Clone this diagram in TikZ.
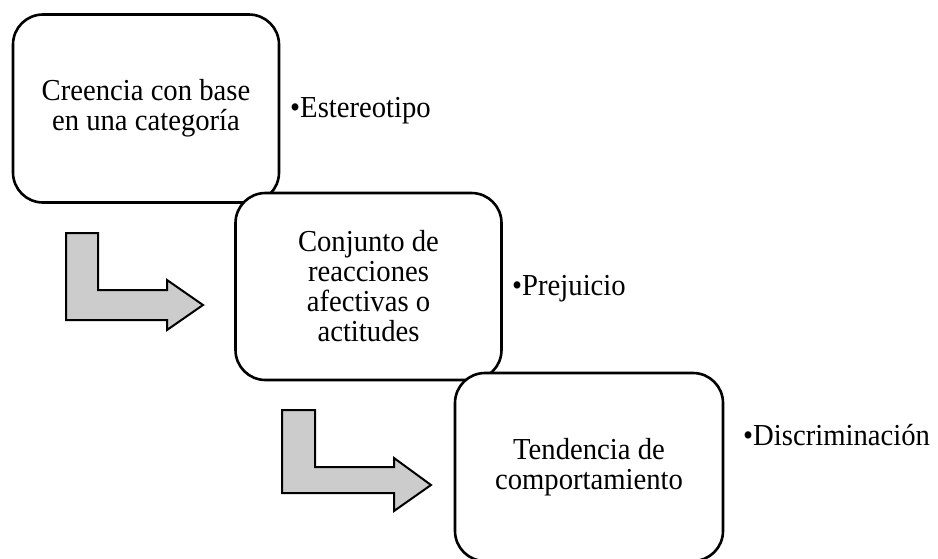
\documentclass[tikz,border=0pt]{standalone}
\usepackage{fontspec}
\setmainfont[FakeStretch=0.94]{Liberation Serif}
\usepackage{xcolor}
\usepackage{tikz}
\tikzset{
    caja/.style={draw, line width=2.6pt, fill=white, rounded corners=30pt, align=center,
        minimum width=266pt, minimum height=188pt, inner sep=0pt},
    flecha/.style={draw, line width=2pt, fill=black!20, line join=miter},
    etiqueta/.style={anchor=base west, inner sep=0pt}
}
\begin{document}
\begin{tikzpicture}[x=1pt, y=-1pt, font=\fontsize{30.5}{30}\selectfont]
        \useasboundingbox (0,0) rectangle (938,558);
        %FLECHAS
        \filldraw[flecha] (66,233) -- (98,233) -- (98,290) -- (167,290) -- (167,280) -- (203,305) -- (167,330) -- (167,320) -- (66,320) -- cycle;
        \filldraw[flecha] (282,410) -- (315,410) -- (315,467) -- (394,467) -- (394,458) -- (431,485) -- (394,511) -- (394,493) -- (282,493) -- cycle;
        %ESTEREOTIPO
        \node[caja] (creencia) at (146,108.5) {Creencia con base\\en una categoría};
        \node[etiqueta] (estereotipo) at (290,117) {•Estereotipo};
        %PREJUICIO
        \node[caja, minimum height=187pt] (conjunto) at (368.5,286.5) {Conjunto de\\reacciones\\afectivas o\\actitudes};
        \node[etiqueta] (prejuicio) at (512,295) {•Prejuicio};
        %DISCRIMINACION
        \node[caja, minimum width=268pt] (tendencia) at (589,467) {Tendencia de\\comportamiento};
        \node[etiqueta] (discriminacion) at (743,445) {•Discriminación};
    \end{tikzpicture}
\end{document}
